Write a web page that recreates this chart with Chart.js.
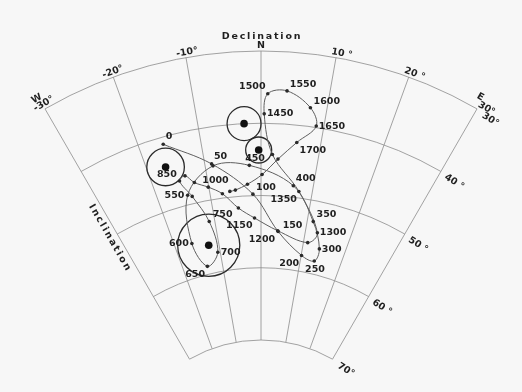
<!DOCTYPE html>
<html><head><meta charset="utf-8">
<script src="https://cdn.jsdelivr.net/npm/chart.js@4"></script>
<style>html,body{margin:0;padding:0;background:#f7f7f7;}canvas{display:block;}</style>
</head><body>
<canvas id="c" width="522" height="392"></canvas>
<script>
// ---- data (declination / inclination in degrees) ----
const years = [0,50,100,150,200,250,300,350,400,450,500,550,600,650,700,750,800,850,900,950,1000,1050,1100,1150,1200,1250,1300,1350,1400,1450,1500,1550,1600,1650,1700,1750,1800,1850,1900,1950];
const declination = [-16.1,-8.8,-1.6,3.9,10.1,13.5,14.0,11.3,6.2,-2.1,-8.6,-14.3,-16.1,-13.9,-10.6,-11.2,-13.5,-15.1,-13.9,-12.5,-10.1,-7.6,-4.7,-1.4,3.8,11.0,12.7,7.4,2.0,0.5,1.0,3.8,7.5,8.8,6.0,3.0,0.2,-2.6,-5.0,-6.1];
const inclination = [41.0,45.1,49.8,54.9,57.8,58.2,56.4,52.9,48.4,45.8,45.4,48.7,55.3,58.9,57.3,52.9,49.0,46.5,46.0,47.2,48.2,49.4,51.6,53.1,54.8,55.9,54.3,49.1,44.3,38.7,35.9,35.4,37.4,39.8,42.4,44.9,47.1,48.4,49.1,49.2];
const labelledYears = [0,50,100,150,200,250,300,350,400,450,550,600,650,700,750,850,1000,1150,1200,1300,1350,1450,1500,1550,1600,1650,1700];
const siteDec = [-2.7,-0.4,-16.8,-12.4];
const siteInc = [40.0,43.7,44.1,56.1];
const siteA95 = [2.35,1.8,2.6,4.3];
const decTicks = [-30,-20,-10,0,10,20,30];
const decTickLabels = ['-30°','-20°','-10°','N','10 °','20 °','30°'];
const incTicks = [30,40,50,60,70];
const incTickLabels = ['30°','40 °','50 °','60 °','70°'];

// ---- layout / style (not data) ----
const R30 = 432, K = 7.225, D2R = Math.PI/180;
const decLabelShift = [1.5,1.5,2,0,5,4.5,8];
const labelOffsets = {0:[5.7,-7.3],50:[9,-7.7],100:[13,-6.3],150:[14.4,-6],200:[-12.3,8],250:[0.7,8.3],300:[12.4,1],350:[13.3,-7],400:[12.4,-6.7],450:[5.7,-6.7],550:[-13.2,0],600:[-13,0],650:[-12.3,7.8],700:[12.8,0],750:[13.4,-7],850:[-12.6,-6.7],1000:[7.2,-7],1150:[-15.2,7.7],1200:[-15.8,8.7],1300:[15.7,0],1350:[-15.2,8],1450:[16,0],1500:[-15.5,-7],1550:[16,-6.5],1600:[16.4,-6.5],1650:[15.7,0],1700:[16,7.8]};
const FONT = 'bold 9.5px "DejaVu Sans"';
const TXT = '#1f1f1f';

function radius(inc){ return R30 - K*(inc-30); }
function proj(dec, inc){ const r = radius(inc), a = dec*D2R; return {x: r*Math.sin(a), y: r*Math.cos(a)}; }

const curvePts = years.map((y,i)=>proj(declination[i], inclination[i]));
const sitePts = siteDec.map((d,i)=>proj(d, siteInc[i]));

function px(chart, p){ return [chart.scales.x.getPixelForValue(p.x), chart.scales.y.getPixelForValue(p.y)]; }

const gridPlugin = {
  id:'grid',
  beforeDatasetsDraw(chart){
    const {ctx, scales:{x,y}} = chart;
    const cx = x.getPixelForValue(0), cy = y.getPixelForValue(0);
    const u = x.getPixelForValue(1) - cx;
    const dmin = decTicks[0], dmax = decTicks[decTicks.length-1];
    const imin = incTicks[0], imax = incTicks[incTicks.length-1];
    ctx.save();
    ctx.strokeStyle = '#8c8c8c'; ctx.lineWidth = 0.8;
    incTicks.forEach(inc=>{
      ctx.beginPath();
      ctx.arc(cx, cy, radius(inc)*u, (-90+dmin)*D2R, (-90+dmax)*D2R);
      ctx.stroke();
    });
    decTicks.forEach(d=>{
      const a = px(chart, proj(d, imin)), b = px(chart, proj(d, imax));
      ctx.beginPath(); ctx.moveTo(a[0],a[1]); ctx.lineTo(b[0],b[1]); ctx.stroke();
    });
    // texts
    ctx.fillStyle = TXT; ctx.font = FONT; ctx.textAlign='center'; ctx.textBaseline='middle';
    const rad = (r, d) => [cx + r*u*Math.sin(d*D2R), cy - r*u*Math.cos(d*D2R)];
    decTicks.forEach((d,i)=>{
      const p = rad(R30+5, d);
      ctx.save(); ctx.translate(p[0],p[1]); ctx.rotate(d*D2R);
      ctx.fillText(decTickLabels[i], decLabelShift[i], 0);
      if(d===dmin) ctx.fillText('W', -2, -8);
      if(d===dmax) ctx.fillText('E', -3, -7);
      ctx.restore();
    });
    // inclination tick labels beyond the east meridian
    incTicks.forEach((inc,i)=>{
      const p = rad(radius(inc), dmax);
      ctx.save(); ctx.translate(p[0],p[1]); ctx.rotate((dmax+2)*D2R);
      ctx.textAlign='center';
      ctx.fillText(incTickLabels[i], 17, 2);
      ctx.restore();
    });
    // titles
    try{ ctx.letterSpacing = '1.8px'; }catch(e){}
    const t = rad(R30+14.3, 0);
    ctx.fillText('Declination', t[0]+1, t[1]);
    const m = rad(radius(50), dmin);
    ctx.save(); ctx.translate(m[0], m[1]); ctx.rotate((90+dmin)*D2R);
    ctx.fillText('Inclination', 0, 8.4);
    ctx.restore();
    try{ ctx.letterSpacing = '0px'; }catch(e){}
    ctx.restore();
  }
};

const labelPlugin = {
  id:'labels',
  afterDatasetsDraw(chart){
    const {ctx} = chart;
    ctx.save();
    ctx.fillStyle = TXT; ctx.font = FONT; ctx.textAlign='center'; ctx.textBaseline='middle';
    labelledYears.forEach(yr=>{
      const i = years.indexOf(yr);
      const p = px(chart, curvePts[i]);
      const o = labelOffsets[yr] || [12,0];
      ctx.fillText(String(yr), p[0]+o[0], p[1]+o[1]);
    });
    ctx.restore();
  }
};

new Chart(document.getElementById('c'), {
  type:'scatter',
  data:{datasets:[
    {type:'line', data:curvePts, borderColor:'#5e5e5e', borderWidth:1, tension:0.35, fill:false,
     pointRadius:1.8, pointBackgroundColor:'#2a2a2a', pointBorderWidth:0},
    {data:sitePts, pointRadius:3.8, pointBackgroundColor:'#111', pointBorderWidth:0},
    {data:sitePts, pointRadius:(c)=>siteA95[c.dataIndex]*K, pointBackgroundColor:'rgba(0,0,0,0)', pointBorderColor:'#2a2a2a', pointBorderWidth:1.3}
  ]},
  options:{
    responsive:false, animation:false, events:[],
    layout:{padding:0, autoPadding:false},
    plugins:{legend:{display:false}, tooltip:{enabled:false}},
    scales:{
      x:{type:'linear', display:false, min:-261, max:261},
      y:{type:'linear', display:false, min:91, max:483}
    }
  },
  plugins:[gridPlugin, labelPlugin]
});
</script>
</body></html>
